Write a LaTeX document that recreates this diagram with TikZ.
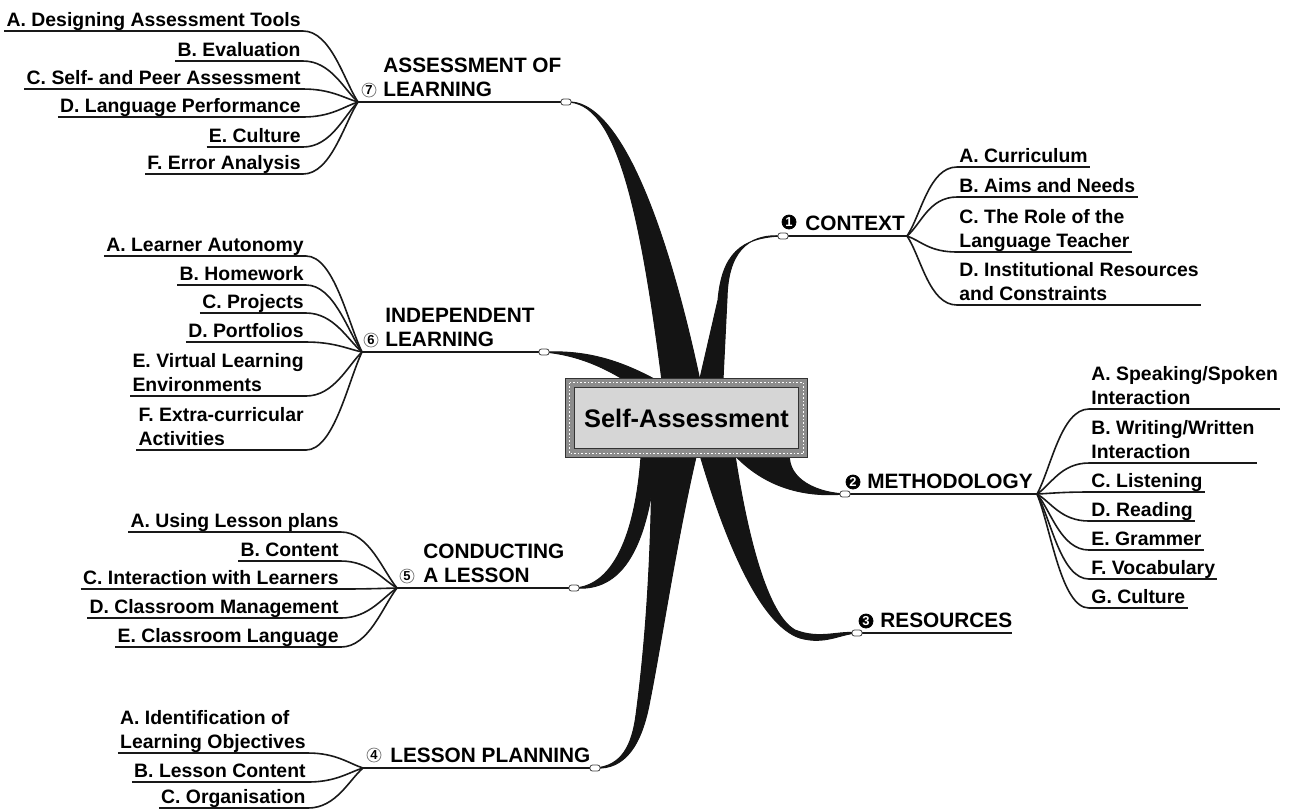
\documentclass[tikz,border=0pt]{standalone}
\usepackage{fontspec}
\setmainfont{Liberation Sans}

\begin{document}
\begin{tikzpicture}[x=0.5pt,y=-0.5pt,
	item/.style={font=\fontsize{9.7}{12}\selectfont\bfseries, inner sep=1pt, align=left},
	head/.style={font=\fontsize{10.4}{12}\selectfont\bfseries, inner sep=0pt, align=left},
	num/.style={circle, draw=black!50, line width=0.4pt, fill=white, inner sep=0pt, minimum size=7pt, font=\fontsize{6.5}{7}\selectfont\bfseries},
	numdark/.style={num, draw=black, fill=black, text=white},
	knob/.style={draw=black!75, fill=white, line width=0.4pt, rounded corners=1.2pt, minimum width=5pt, minimum height=3pt, inner sep=0pt},
	twig/.style={line width=0.8pt, black!90},
	uline/.style={line width=1pt, black!90},
	stem/.style={line width=1.2pt, black!90},
	branch/.style={fill=black!92, draw=black!92, line width=0.5pt},
	centerbox/.style={draw=black!80, line width=0.5pt, double=black!45, double distance=4pt, fill=black!16, minimum width=116.5pt, minimum height=35pt, font=\fontsize{12.7}{14}\selectfont\bfseries}]

	\useasboundingbox (0,0) rectangle (1294,811);

	% knob positions
	\coordinate (t1) at (783,236);
	\coordinate (t2) at (845,494);
	\coordinate (t3) at (857,633);
	\coordinate (t4) at (595,768);
	\coordinate (t5) at (574,588);
	\coordinate (t6) at (544,352);
	\coordinate (t7) at (566,102);

	% thick branches from the centre
	\filldraw[branch] (t7) .. controls (615,101) and (640,200) .. (665,405) -- (705,405) .. controls (670,230) and (620,97) .. (t7) -- cycle;
	\filldraw[branch] (695,400) -- (718,300) .. controls (722,255) and (740,237) .. (t1) .. controls (745,233) and (728,255) .. (727,298) -- (722,400) -- cycle;
	\filldraw[branch] (790,450) .. controls (785,475) and (810,492) .. (t2) .. controls (800,498) and (760,485) .. (730,450) -- cycle;
	\filldraw[branch] (700,455) .. controls (725,540) and (760,625) .. (800,638) .. controls (825,645) and (840,634) .. (t3) .. controls (840,630) and (820,640) .. (795,630) .. controls (768,615) and (748,540) .. (735,455) -- cycle;
	\filldraw[branch] (t4) .. controls (622,766) and (632,745) .. (636,715) .. controls (642,670) and (652,580) .. (652,440) -- (700,440) .. controls (678,530) and (662,640) .. (650,700) .. controls (642,745) and (625,770) .. (t4) -- cycle;
	\filldraw[branch] (t5) .. controls (615,586) and (638,530) .. (642,440) -- (658,440) .. controls (650,550) and (622,592) .. (t5) -- cycle;
	\filldraw[branch] (t6) .. controls (590,350) and (625,362) .. (665,385) -- (660,405) .. controls (625,378) and (590,356) .. (t6) -- cycle;

	% centre
	\node[centerbox] (sa) at (686.5,418) {Self-Assessment};
	\draw[white, densely dotted, line width=0.8pt] (sa.north west) rectangle (sa.south east);

	% fan points
	\coordinate (f1) at (907,236);
	\coordinate (f2) at (1037,494);
	\coordinate (e3) at (1012,633);
	\coordinate (f4) at (363,768);
	\coordinate (f5) at (397,588);
	\coordinate (f6) at (362,352);
	\coordinate (f7) at (358,102);

	\foreach \k in {1,2,4,5,6,7}{
		\draw[stem] (f\k) -- (t\k);
	}
	\draw[stem] (t3) -- (e3);

	% 1 context
	\foreach \i/\txt/\u in {a/A. Curriculum/167, b/B. Aims and Needs/197, c/{C. The Role of the\\Language Teacher}/252, d/{D. Institutional Resources\\and Constraints}/305}{
		\node[item, anchor=base west] (g1\i) at (957,\u-5) {\txt};
		\draw[uline] ([yshift=-2.5pt]g1\i.base west) -- ([yshift=-2.5pt]g1\i.base east);
		\draw[twig] (f1) .. controls +(14,{(\u-236)*0.3}) and +(-28,0) .. ([yshift=-2.5pt]g1\i.base west);
	}
	% 2 methodology
	\foreach \i/\txt/\u in {a/{A. Speaking/Spoken\\Interaction}/409, b/{B. Writing/Written\\Interaction}/463, c/C. Listening/492, d/D. Reading/521, e/E. Grammer/550, f/F. Vocabulary/579, g/G. Culture/608}{
		\node[item, anchor=base west] (g2\i) at (1089,\u-5) {\txt};
		\draw[uline] ([yshift=-2.5pt]g2\i.base west) -- ([yshift=-2.5pt]g2\i.base east);
		\draw[twig] (f2) .. controls +(14,{(\u-494)*0.3}) and +(-28,0) .. ([yshift=-2.5pt]g2\i.base west);
	}
	% 4 lesson planning
	\foreach \i/\txt/\u in {a/{A. Identification of\\Learning Objectives}/753, b/B. Lesson Content/782, c/C. Organisation/808}{
		\node[item, anchor=base east] (g4\i) at (308,\u-5) {\txt};
		\draw[uline] ([yshift=-2.5pt]g4\i.base west) -- ([yshift=-2.5pt]g4\i.base east);
		\draw[twig] ([yshift=-2.5pt]g4\i.base east) .. controls +(28,0) and +(-14,{(\u-768)*0.3}) .. (f4);
	}
	% 5 conducting a lesson
	\foreach \i/\txt/\u in {a/A. Using Lesson plans/532, b/B. Content/561, c/C. Interaction with Learners/589, d/D. Classroom Management/618, e/E. Classroom Language/647}{
		\node[item, anchor=base east] (g5\i) at (341,\u-5) {\txt};
		\draw[uline] ([yshift=-2.5pt]g5\i.base west) -- ([yshift=-2.5pt]g5\i.base east);
		\draw[twig] ([yshift=-2.5pt]g5\i.base east) .. controls +(28,0) and +(-14,{(\u-588)*0.3}) .. (f5);
	}
	% 6 independent learning
	\foreach \i/\txt/\u in {a/A. Learner Autonomy/256, b/B. Homework/285, c/C. Projects/313, d/D. Portfolios/342, e/{E. Virtual Learning\\Environments}/396, f/{F. Extra-curricular\\Activities}/450}{
		\node[item, anchor=base east] (g6\i) at (306,\u-5) {\txt};
		\draw[uline] ([yshift=-2.5pt]g6\i.base west) -- ([yshift=-2.5pt]g6\i.base east);
		\draw[twig] ([yshift=-2.5pt]g6\i.base east) .. controls +(28,0) and +(-14,{(\u-352)*0.3}) .. (f6);
	}
	% 7 assessment of learning
	\foreach \i/\txt/\u in {a/A. Designing Assessment Tools/31, b/B. Evaluation/61, c/C. Self- and Peer Assessment/89, d/D. Language Performance/117, e/E. Culture/147, f/F. Error Analysis/174}{
		\node[item, anchor=base east] (g7\i) at (303,\u-5) {\txt};
		\draw[uline] ([yshift=-2.5pt]g7\i.base west) -- ([yshift=-2.5pt]g7\i.base east);
		\draw[twig] ([yshift=-2.5pt]g7\i.base east) .. controls +(28,0) and +(-14,{(\u-102)*0.3}) .. (f7);
	}

	% knobs
	\foreach \k in {1,...,7}{
		\node[knob] (k\k) at (t\k) {};
	}

	% headings
	\node[head, anchor=base west] (h1) at (805,230) {CONTEXT};
	\node[head, anchor=base west] (h2) at (867,488) {METHODOLOGY};
	\node[head, anchor=base west] (h3) at (880,627) {RESOURCES};
	\node[head, anchor=base west] (h4) at (390,762) {LESSON PLANNING};
	\node[head, anchor=base west] (h5) at (423,582) {CONDUCTING\\A LESSON};
	\node[head, anchor=base west] (h6) at (385,346) {INDEPENDENT\\LEARNING};
	\node[head, anchor=base west] (h7) at (383,96) {ASSESSMENT OF\\LEARNING};

	\node[numdark] (n1) at (789,222) {1};
	\node[numdark] (n2) at (853,482) {2};
	\node[numdark] (n3) at (866,621) {3};
	\node[num] (n4) at (374,755) {4};
	\node[num] (n5) at (407,576) {5};
	\node[num] (n6) at (371,340) {6};
	\node[num] (n7) at (369,90) {7};
\end{tikzpicture}
\end{document}
